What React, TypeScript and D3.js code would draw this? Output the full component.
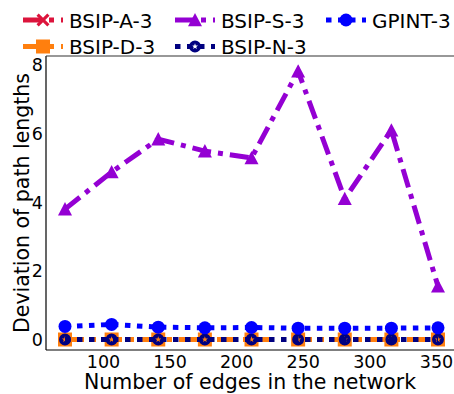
import React from "react";
import * as d3 from "d3";

const edges = [70, 105, 140, 175, 210, 245, 280, 315, 350];
const bsipA = [0, 0, 0, 0, 0, 0, 0, 0, 0];
const bsipD = [0, 0, 0, 0, 0, 0, 0, 0, 0];
const bsipS = [3.8, 4.88, 5.84, 5.49, 5.29, 7.82, 4.1, 6.1, 1.55];
const bsipN = [0, 0, 0, 0, 0, 0, 0, 0, 0];
const gpint = [0.38, 0.44, 0.36, 0.34, 0.35, 0.33, 0.33, 0.33, 0.34];
const xTicks = [100, 150, 200, 250, 300, 350];
const yTicks = [0, 2, 4, 6, 8];

const W = 454;
const H = 394;
const FONT = "DejaVu Sans";
const DASHDOT = "19,7,5,7";
const DOTTED = "5.5,6.5";

type MarkerKind = "x" | "tri" | "circle" | "square" | "nstar";

interface Series {
  name: string;
  values: number[];
  color: string;
  dash: string;
  marker: MarkerKind;
}

const series: Series[] = [
  { name: "BSIP-A-3", values: bsipA, color: "#DC143C", dash: DASHDOT, marker: "x" },
  { name: "BSIP-D-3", values: bsipD, color: "#FF7F0E", dash: DASHDOT, marker: "square" },
  { name: "BSIP-S-3", values: bsipS, color: "#9400D3", dash: DASHDOT, marker: "tri" },
  { name: "BSIP-N-3", values: bsipN, color: "#000080", dash: DOTTED, marker: "nstar" },
  { name: "GPINT-3", values: gpint, color: "#0000FF", dash: DOTTED, marker: "circle" },
];

function starPath(r1: number, r2: number, n: number) {
  const pts: string[] = [];
  for (let i = 0; i < n * 2; i++) {
    const r = i % 2 === 0 ? r1 : r2;
    const a = (Math.PI * i) / n - Math.PI / 2;
    pts.push(`${(r * Math.cos(a)).toFixed(2)},${(r * Math.sin(a)).toFixed(2)}`);
  }
  return "M" + pts.join("L") + "Z";
}

function Marker({ kind, color, x, y }: { kind: MarkerKind; color: string; x: number; y: number }) {
  const t = `translate(${x},${y})`;
  if (kind === "circle") return <circle cx={x} cy={y} r={6.5} fill={color} />;
  if (kind === "square") return <rect x={x - 7} y={y - 7} width={14} height={14} fill={color} />;
  if (kind === "tri") {
    const s = 7;
    return (
      <path transform={t} d={`M0,${-s}L${s},${s * 0.9}L${-s},${s * 0.9}Z`} fill={color} />
    );
  }
  if (kind === "x") {
    const a = 6.5, b = 2.2;
    const d = `M${-a},${-a + b}L${-a + b},${-a}L0,${-b}L${a - b},${-a}L${a},${-a + b}L${b},0L${a},${a - b}L${a - b},${a}L0,${b}L${-a + b},${a}L${-a},${a - b}L${-b},0Z`;
    return <path transform={t} d={d} fill={color} />;
  }
  const r = 6;
  const circ = `M${r},0A${r},${r} 0 1,1 ${-r},0A${r},${r} 0 1,1 ${r},0Z`;
  return <path transform={t} d={circ + starPath(3.2, 1.3, 5)} fill={color} fillRule="evenodd" />;
}

export default function App() {
  const x = d3.scaleLinear().domain([56, 364]).range([46.35, 456.65]);
  const y = d3.scaleLinear().domain([-0.306, 8.262]).range([350, 56]);
  const left = 46;
  const top = 56;
  const bottom = 350;

  const line = d3
    .line<number>()
    .x((_, i) => x(edges[i]))
    .y((d) => y(d));

  const legendItems = [
    { s: series[0], lx: 23, ly: 20 },
    { s: series[1], lx: 23, ly: 46.5 },
    { s: series[2], lx: 175, ly: 20 },
    { s: series[3], lx: 175, ly: 46.5 },
    { s: series[4], lx: 326, ly: 20 },
  ];

  return (
    <div style={{ position: "fixed", left: 0, top: 0 }}>
      <svg width={W} height={H} style={{ display: "block", background: "#fff" }}>
        <defs>
          <clipPath id="plotclip">
            <rect x={left} y={top} width={W - left} height={bottom - top} />
          </clipPath>
        </defs>
        <g clipPath="url(#plotclip)">
          {series.map((s) => (
            <g key={s.name}>
              <path
                d={line(s.values) || ""}
                fill="none"
                stroke={s.color}
                strokeWidth={5}
                strokeDasharray={s.dash}
              />
              {s.values.map((v, i) => (
                <Marker key={i} kind={s.marker} color={s.color} x={x(edges[i])} y={y(v)} />
              ))}
            </g>
          ))}
        </g>
        <line x1={left} x2={left} y1={top} y2={bottom} stroke="#000" strokeWidth={1.2} />
        <line x1={left} x2={W} y1={bottom} y2={bottom} stroke="#000" strokeWidth={1.2} />
        <line x1={left} x2={W} y1={top} y2={top} stroke="#333" strokeWidth={1.2} />
        {xTicks.map((t) => (
          <text
            key={t}
            x={x(t) - 1.5}
            y={367.5}
            textAnchor="middle"
            fontFamily={FONT}
            fontSize={17.5}
            fill="#000"
          >
            {t}
          </text>
        ))}
        {yTicks.map((t) => (
          <text
            key={t}
            x={43}
            y={y(t) + 6.3}
            textAnchor="end"
            fontFamily={FONT}
            fontSize={17.5}
            fill="#000"
          >
            {t}
          </text>
        ))}
        <text x={250} y={388.5} textAnchor="middle" fontFamily={FONT} fontSize={20.5} fill="#000">
          Number of edges in the network
        </text>
        <text
          transform={`translate(28.5,${(73 + 333) / 2}) rotate(-90)`}
          textAnchor="middle"
          fontFamily={FONT}
          fontSize={20.5}
          fill="#000"
        >
          Deviation of path lengths
        </text>
        {legendItems.map(({ s, lx, ly }) => (
          <g key={s.name}>
            <line
              x1={lx}
              x2={lx + 40}
              y1={ly}
              y2={ly}
              stroke={s.color}
              strokeWidth={5}
              strokeDasharray={s.dash}
            />
            <Marker kind={s.marker} color={s.color} x={lx + 20} y={ly} />
            <text x={lx + 46} y={ly + 7.8} fontFamily={FONT} fontSize={20} fill="#000">
              {s.name}
            </text>
          </g>
        ))}
      </svg>
    </div>
  );
}
